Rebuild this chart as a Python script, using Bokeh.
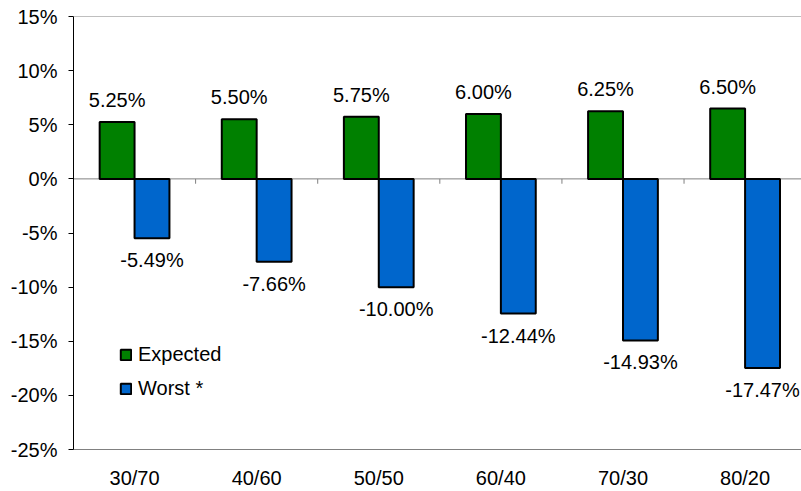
from bokeh.plotting import figure
from bokeh.models import (Range1d, FixedTicker, Span, Legend, LegendItem,
                          ColumnDataSource)
from bokeh.core.properties import value
from bokeh.embed import file_html
from bokeh.resources import INLINE

# ---- data ----
categories = ["30/70", "40/60", "50/50", "60/40", "70/30", "80/20"]
expected = [5.25, 5.50, 5.75, 6.00, 6.25, 6.50]
worst = [-5.49, -7.66, -10.00, -12.44, -14.93, -17.47]
y_ticks = [-25, -20, -15, -10, -5, 0, 5, 10, 15]
y_tick_labels = ["-25%", "-20%", "-15%", "-10%", "-5%", "0%", "5%", "10%", "15%"]
series_names = ["Expected", "Worst *"]

# ---- style ----
FONT = "Liberation Sans"
FS = "20px"
GREEN = "#008000"
BLUE = "#0066CC"
GRAY = "#808080"
BAR_W = 1 / 3.5          # gap width 150%
X_END = 5.962            # visible part of the category axis (chart is cropped at right)
TICK_LEN = 0.45

n = len(categories)
centers = [i + 0.5 for i in range(n)]

src = ColumnDataSource(dict(
    xg=[c - BAR_W / 2 for c in centers],
    xb=[c + BAR_W / 2 for c in centers],
    exp=expected,
    wst=worst,
    exp_lbl=[f"{v:.2f}%" for v in expected],
    wst_lbl=[f"{v:.2f}%" for v in worst],
))

p = figure(width=801, height=491, output_backend="svg", toolbar_location=None,
           x_range=Range1d(0, X_END), y_range=Range1d(y_ticks[0], y_ticks[-1]),
           min_border_left=73, min_border_right=0, min_border_top=16,
           min_border_bottom=40)
p.outline_line_color = None
p.background_fill_color = "white"
p.border_fill_color = "white"
p.xgrid.visible = False
p.ygrid.visible = False

# zero line and its category ticks
p.add_layout(Span(location=0, dimension="width", line_color=GRAY,
                  line_width=1, level="underlay"))
p.segment(x0=list(range(1, n)), y0=[0] * (n - 1), x1=list(range(1, n)),
          y1=[-TICK_LEN] * (n - 1), line_color=GRAY, line_width=1, level="underlay")
# top border
p.add_layout(Span(location=y_ticks[-1], dimension="width", line_color=GRAY,
                  line_width=1))

r1 = p.vbar(x="xg", top="exp", bottom=0, width=BAR_W, source=src,
            fill_color=GREEN, line_color="black", line_width=2)
r2 = p.vbar(x="xb", top="wst", bottom=0, width=BAR_W, source=src,
            fill_color=BLUE, line_color="black", line_width=2)

p.text(x="xg", y="exp", text="exp_lbl", source=src, text_align="center",
       text_baseline="middle", y_offset=-22, text_font=value(FONT),
       text_font_size=FS, text_color="black")
p.text(x="xb", y="wst", text="wst_lbl", source=src, text_align="center",
       text_baseline="middle", y_offset=22, text_font=value(FONT),
       text_font_size=FS, text_color="black")

# y axis
ya = p.yaxis[0]
ya.ticker = FixedTicker(ticks=y_ticks)
ya.major_label_overrides = {t: l for t, l in zip(y_ticks, y_tick_labels)}
ya.axis_line_color = "black"
ya.axis_line_width = 1
ya.major_tick_line_color = "black"
ya.major_tick_out = 5
ya.major_tick_in = 0
ya.minor_tick_line_color = None
ya.major_label_standoff = 11
ya.major_label_text_font = FONT
ya.major_label_text_font_size = FS
ya.major_label_text_color = "black"

# x axis (bottom, category labels)
xa = p.xaxis[0]
xa.ticker = FixedTicker(ticks=centers)
xa.major_label_overrides = {c: cat for c, cat in zip(centers, categories)}
xa.axis_line_color = GRAY
xa.axis_line_width = 1
xa.major_tick_line_color = None
xa.major_tick_out = 0
xa.major_tick_in = 0
xa.minor_tick_line_color = None
xa.major_label_standoff = 17
xa.major_label_text_font = FONT
xa.major_label_text_font_size = FS
xa.major_label_text_color = "black"

legend = Legend(items=[LegendItem(label=series_names[0], renderers=[r1]),
                       LegendItem(label=series_names[1], renderers=[r2])],
                location=(46, 49), orientation="vertical")
legend.border_line_color = None
legend.background_fill_alpha = 0
legend.padding = 0
legend.margin = 0
legend.glyph_width = 13
legend.glyph_height = 13
legend.label_height = 20
legend.spacing = 11
legend.label_standoff = 6
legend.label_text_font = FONT
legend.label_text_font_size = FS
legend.label_text_color = "black"
p.add_layout(legend)

open("out.html", "w").write(file_html(p, INLINE))
